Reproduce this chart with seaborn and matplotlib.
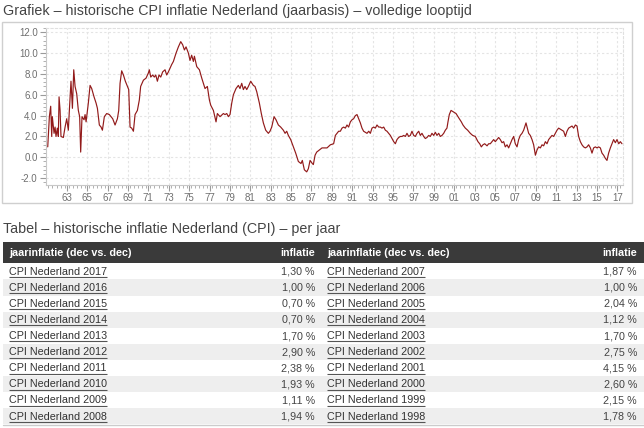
import matplotlib
matplotlib.use("Agg")
import matplotlib.pyplot as plt
from matplotlib.patches import Rectangle
from matplotlib.ticker import MultipleLocator, FixedLocator, FuncFormatter
import seaborn as sns
import pandas as pd

# ---------------- data ----------------
cpi_year = [
    1961.14, 1961.30, 1961.43, 1961.53, 1961.59, 1961.76, 1961.86, 1961.95, 1962.08, 1962.18,
    1962.25, 1962.35, 1962.44, 1962.67, 1962.84, 1963.00, 1963.16, 1963.26, 1963.42, 1963.56,
    1963.69, 1963.82, 1963.98, 1964.14, 1964.27, 1964.37, 1964.50, 1964.70, 1964.80, 1964.90,
    1965.03, 1965.12, 1965.29, 1965.45, 1965.68, 1965.88, 1966.01, 1966.20, 1966.37, 1966.50,
    1966.69, 1966.92, 1967.18, 1967.51, 1967.74, 1967.97, 1968.10, 1968.23, 1968.39, 1968.56,
    1968.75, 1968.95, 1969.08, 1969.21, 1969.37, 1969.54, 1969.70, 1969.93, 1970.12, 1970.25,
    1970.52, 1970.78, 1971.01, 1971.10, 1971.24, 1971.43, 1971.59, 1971.73, 1971.89, 1972.05,
    1972.22, 1972.41, 1972.64, 1972.80, 1972.97, 1973.29, 1973.46, 1973.72, 1973.95, 1974.18,
    1974.37, 1974.54, 1974.70, 1974.93, 1975.09, 1975.25, 1975.42, 1975.52, 1975.75, 1976.01,
    1976.24, 1976.40, 1976.56, 1976.79, 1976.99, 1977.12, 1977.38, 1977.64, 1977.77, 1978.03,
    1978.36, 1978.52, 1978.69, 1978.85, 1979.01, 1979.18, 1979.34, 1979.60, 1979.83, 1979.99,
    1980.16, 1980.32, 1980.48, 1980.65, 1980.81, 1981.04, 1981.30, 1981.46, 1981.63, 1981.89,
    1982.08, 1982.28, 1982.51, 1982.77, 1982.93, 1983.10, 1983.33, 1983.52, 1983.75, 1983.98,
    1984.24, 1984.41, 1984.57, 1984.73, 1984.96, 1985.22, 1985.45, 1985.71, 1985.97, 1986.10,
    1986.30, 1986.53, 1986.69, 1986.86, 1987.08, 1987.18, 1987.35, 1987.51, 1987.77, 1988.03,
    1988.52, 1988.85, 1989.17, 1989.34, 1989.50, 1989.66, 1989.83, 1989.99, 1990.15, 1990.32,
    1990.48, 1990.64, 1990.81, 1990.97, 1991.13, 1991.30, 1991.46, 1991.62, 1991.79, 1991.95,
    1992.11, 1992.44, 1992.61, 1992.77, 1992.93, 1993.10, 1993.26, 1993.42, 1993.59, 1993.75,
    1993.91, 1994.08, 1994.24, 1994.40, 1994.57, 1994.73, 1994.89, 1995.06, 1995.22, 1995.38,
    1995.55, 1995.71, 1995.87, 1996.04, 1996.20, 1996.36, 1996.53, 1996.69, 1996.85, 1997.02,
    1997.18, 1997.34, 1997.51, 1997.67, 1997.83, 1998.00, 1998.16, 1998.32, 1998.49, 1998.65,
    1998.81, 1998.98, 1999.14, 1999.30, 1999.47, 1999.63, 1999.79, 1999.96, 2000.12, 2000.28,
    2000.38, 2000.51, 2000.68, 2000.84, 2001.00, 2001.17, 2001.36, 2001.49, 2001.69, 2001.85,
    2002.08, 2002.31, 2002.57, 2002.80, 2003.06, 2003.32, 2003.49, 2003.65, 2003.81, 2003.98,
    2004.21, 2004.37, 2004.53, 2004.70, 2004.86, 2005.02, 2005.19, 2005.35, 2005.51, 2005.68,
    2005.84, 2006.00, 2006.17, 2006.33, 2006.49, 2006.66, 2006.82, 2006.98, 2007.15, 2007.31,
    2007.47, 2007.64, 2007.80, 2008.03, 2008.16, 2008.29, 2008.45, 2008.62, 2008.78, 2008.95,
    2009.11, 2009.27, 2009.44, 2009.60, 2009.76, 2009.93, 2010.09, 2010.25, 2010.42, 2010.58,
    2010.74, 2010.91, 2011.07, 2011.23, 2011.40, 2011.56, 2011.72, 2011.89, 2012.05, 2012.21,
    2012.38, 2012.54, 2012.70, 2012.87, 2013.03, 2013.19, 2013.36, 2013.52, 2013.68, 2013.85,
    2014.01, 2014.17, 2014.34, 2014.50, 2014.66, 2014.83, 2014.99, 2015.15, 2015.32, 2015.48,
    2015.64, 2015.81, 2015.97, 2016.13, 2016.30, 2016.46, 2016.62, 2016.79, 2016.95, 2017.12,
    2017.28, 2017.44,
]
cpi_value = [
    1.0, 3.9, 4.9, 2.0, 3.9, 2.3, 2.9, 2.0, 2.8, 2.0,
    5.8, 4.5, 2.0, 1.9, 2.9, 3.7, 2.6, 4.5, 7.3, 4.7,
    8.4, 6.8, 6.1, 4.5, 3.9, 0.5, 3.9, 3.6, 4.1, 3.4,
    4.5, 5.2, 6.9, 6.6, 5.8, 5.2, 4.7, 3.1, 2.9, 2.6,
    3.9, 4.2, 4.1, 3.7, 3.1, 3.7, 4.5, 7.1, 8.3, 7.9,
    7.3, 6.8, 6.5, 2.9, 2.8, 2.5, 4.1, 4.5, 5.5, 6.8,
    7.4, 7.6, 8.1, 8.4, 7.7, 7.9, 7.7, 7.9, 7.3, 7.9,
    7.7, 8.2, 8.4, 7.9, 8.2, 8.9, 9.2, 10.0, 10.6, 11.1,
    10.8, 10.3, 10.6, 10.0, 9.3, 9.8, 9.2, 9.7, 8.7, 8.4,
    7.6, 7.1, 6.6, 6.8, 5.5, 5.0, 4.5, 3.4, 4.2, 3.9,
    4.2, 4.1, 4.2, 3.9, 4.1, 5.2, 6.0, 6.6, 6.9, 6.6,
    7.1, 6.5, 6.8, 6.5, 6.8, 7.3, 6.9, 6.8, 6.3, 5.2,
    4.2, 3.3, 2.6, 2.3, 2.5, 2.9, 3.9, 3.6, 3.1, 2.9,
    2.6, 2.3, 2.5, 2.1, 1.7, 1.0, 0.4, -0.4, -0.6, -0.3,
    -1.2, -1.4, -1.1, -0.3, -0.6, -0.7, 0.2, 0.5, 0.7, 0.9,
    0.9, 1.2, 1.3, 2.1, 2.3, 2.5, 2.5, 2.8, 2.9, 2.8,
    3.1, 2.9, 3.4, 3.6, 3.7, 4.0, 4.1, 3.7, 3.3, 2.8,
    2.5, 2.3, 2.5, 2.3, 2.8, 2.9, 2.8, 3.1, 2.9, 2.9,
    2.8, 2.9, 2.6, 2.5, 2.3, 2.1, 1.8, 1.5, 1.3, 1.7,
    1.9, 2.0, 2.0, 2.1, 2.0, 2.3, 2.0, 2.1, 2.5, 2.1,
    2.0, 2.3, 2.5, 2.1, 2.3, 2.0, 1.8, 1.9, 2.1, 2.0,
    2.3, 2.1, 2.4, 2.1, 2.3, 2.0, 2.1, 2.3, 2.6, 2.8,
    3.4, 4.1, 4.5, 4.4, 4.3, 4.2, 3.9, 3.7, 3.4, 3.1,
    2.8, 2.6, 2.3, 2.1, 2.0, 1.5, 1.3, 1.0, 1.2, 1.3,
    1.1, 1.3, 1.3, 1.5, 1.7, 1.5, 1.7, 1.9, 1.7, 1.4,
    1.5, 1.0, 1.2, 0.9, 1.3, 1.7, 2.0, 1.3, 1.0, 1.7,
    2.1, 2.3, 2.6, 3.3, 2.8, 2.3, 2.1, 1.7, 1.2, 0.2,
    0.7, 1.0, 0.9, 1.2, 1.1, 1.5, 1.3, 1.7, 1.9, 2.1,
    2.0, 2.3, 2.6, 2.8, 2.7, 2.6, 2.5, 2.0, 2.5, 2.8,
    2.9, 3.0, 2.8, 3.1, 3.0, 2.0, 1.5, 1.2, 1.0, 0.9,
    1.0, 1.2, 0.9, 0.4, 0.9, 1.0, 0.9, 1.0, 0.9, 0.4,
    0.2, -0.1, -0.3, 0.4, 0.9, 1.3, 1.7, 1.4, 1.7, 1.3,
    1.5, 1.3,
]

x_tick_years = list(range(1963, 2018, 2))
y_tick_values = [-2.0, 0.0, 2.0, 4.0, 6.0, 8.0, 10.0, 12.0]

chart_title = "Grafiek \u2013 historische CPI inflatie Nederland (jaarbasis) \u2013 volledige looptijd"
table_title = "Tabel \u2013 historische inflatie Nederland (CPI) \u2013 per jaar"
header_label = "jaarinflatie (dec vs. dec)"
header_value = "inflatie"

table_left_years = [2017, 2016, 2015, 2014, 2013, 2012, 2011, 2010, 2009, 2008]
table_left_values = ["1,30 %", "1,00 %", "0,70 %", "0,70 %", "1,70 %",
                     "2,90 %", "2,38 %", "1,93 %", "1,11 %", "1,94 %"]
table_right_years = [2007, 2006, 2005, 2004, 2003, 2002, 2001, 2000, 1999, 1998]
table_right_values = ["1,87 %", "1,00 %", "2,04 %", "1,12 %", "1,70 %",
                      "2,75 %", "4,15 %", "2,60 %", "2,15 %", "1,78 %"]

# ---------------- style ----------------
sns.set_theme(style="white")
plt.rcParams["font.family"] = ["Liberation Sans", "DejaVu Sans"]

W, H = 644, 428
fig = plt.figure(figsize=(W / 100, H / 100), dpi=100)
fig.patch.set_facecolor("white")

# background axes in pixel coordinates
bg = fig.add_axes([0, 0, 1, 1])
bg.set_xlim(0, W)
bg.set_ylim(H, 0)
bg.axis("off")

PX = 0.72  # points per pixel at 100 dpi

# chart titles
bg.text(3, 10.5, chart_title, fontsize=14.3 * PX, color="#444444", va="center", ha="left")
bg.text(3, 228.5, table_title, fontsize=14.3 * PX, color="#444444", va="center", ha="left")

# chart frame
bg.add_patch(Rectangle((2.5, 21.5), 629.5, 181.5, fill=False, edgecolor="#cfcfcf", linewidth=1.0))

# ---------------- line chart ----------------
ax_l, ax_r, ax_t, ax_b = 46, 623, 28, 185
ax = fig.add_axes([ax_l / W, 1 - ax_b / H, (ax_r - ax_l) / W, (ax_b - ax_t) / H])
ax.set_facecolor("white")
df = pd.DataFrame({"jaar": cpi_year, "inflatie": cpi_value})
sns.lineplot(data=df, x="jaar", y="inflatie", ax=ax, color="#921a1a",
             linewidth=0.85, estimator=None, sort=False)
ax.set_xlim(1960.97, 2017.54)
ax.set_ylim(-2.66, 12.41)
ax.set_xlabel("")
ax.set_ylabel("")

ax.xaxis.set_major_locator(FixedLocator(x_tick_years))
ax.xaxis.set_major_formatter(FuncFormatter(lambda v, p: "%02d" % (int(round(v)) % 100)))
ax.xaxis.set_minor_locator(MultipleLocator(0.4))
ax.yaxis.set_major_locator(FixedLocator(y_tick_values))
ax.yaxis.set_major_formatter(FuncFormatter(lambda v, p: "%.1f" % v))
ax.yaxis.set_minor_locator(MultipleLocator(0.4))

ax.tick_params(axis="both", which="major", labelsize=9.8 * PX, labelcolor="#6f6f6f",
               color="#9a9a9a", length=4, width=0.8, pad=2)
ax.tick_params(axis="both", which="minor", color="#b0b0b0", length=2, width=0.7)
ax.tick_params(axis="x", which="both", bottom=True, direction="out")
ax.tick_params(axis="y", which="both", left=True, direction="out")

ax.grid(True, which="major", color="#e4e4e4", linestyle=(0, (2, 2)), linewidth=0.8)
for side in ["top", "right"]:
    ax.spines[side].set_visible(True)
    ax.spines[side].set_color("#e0e0e0")
    ax.spines[side].set_linestyle((0, (2, 2)))
    ax.spines[side].set_linewidth(0.8)
for side in ["left", "bottom"]:
    ax.spines[side].set_visible(True)
    ax.spines[side].set_color("#c8c8c8")
    ax.spines[side].set_linewidth(0.8)

# ---------------- table ----------------
head_top, head_bot = 241.7, 263.3
row_h = 16.1
bg.add_patch(Rectangle((3, head_top), W - 3, head_bot - head_top,
                       facecolor="#3a3a3a", edgecolor="none"))
fs_tab = 10.8 * PX
head_c = (head_top + head_bot) / 2
columns = [
    (9.3, 315.0, table_left_years, table_left_values),
    (327.0, 637.0, table_right_years, table_right_values),
]
for lx, rx, yrs, vals in columns:
    bg.text(lx, head_c, header_label, fontsize=fs_tab, fontweight="bold",
            color="white", va="center", ha="left")
    bg.text(rx, head_c, header_value, fontsize=fs_tab, fontweight="bold",
            color="white", va="center", ha="right")

for i in range(len(table_left_years)):
    top = head_bot + i * row_h
    if i % 2 == 1:
        bg.add_patch(Rectangle((3, top), W - 3, row_h, facecolor="#eeeeee", edgecolor="none"))

link_texts = []
for lx, rx, yrs, vals in columns:
    for i, (yr, val) in enumerate(zip(yrs, vals)):
        cy = head_bot + i * row_h + row_h / 2 + 0.3
        t = bg.text(lx, cy, "CPI Nederland %d" % yr, fontsize=fs_tab, color="#333333",
                    va="center", ha="left")
        link_texts.append((t, lx, cy))
        bg.text(rx, cy, val, fontsize=fs_tab, color="#444444", va="center", ha="right")

bottom_y = head_bot + 10 * row_h
bg.plot([3, W], [bottom_y + 0.5, bottom_y + 0.5], color="#cccccc", linewidth=1.0)

# underline the link texts
fig.canvas.draw()
renderer = fig.canvas.get_renderer()
for t, lx, cy in link_texts:
    bb = t.get_window_extent(renderer=renderer)
    uy = cy + 5.4
    bg.plot([lx, lx + bb.width], [uy, uy], color="#555555", linewidth=0.8,
            solid_capstyle="butt")

fig.savefig("out.png", dpi=100, facecolor="white")
